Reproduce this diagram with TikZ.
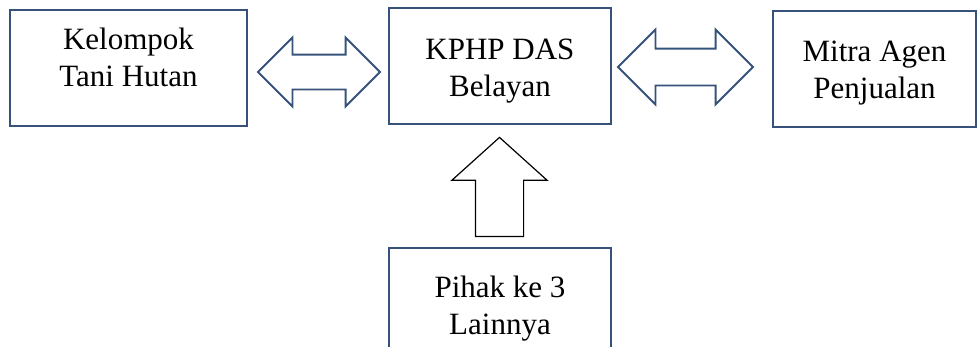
\documentclass[tikz,border=0pt]{standalone}
\usepackage{fontspec}
\setmainfont{Liberation Serif}
\usetikzlibrary{positioning, shapes.arrows}
\definecolor{frame-color}{HTML}{36527A}

\begin{document}
\begin{tikzpicture}[x=1pt, y=-1pt]
\useasboundingbox (0,0) rectangle (978,346);

\begin{scope}[every node/.style={rectangle, draw=frame-color, line width=2pt, minimum height=116pt}]
\node[minimum width=237pt](kth) at (128.5,68) {};
\node[minimum width=222pt](kphp) at (500,66) {};
\node[minimum width=203pt](mitra) at (874.5,68.5) {};
\node[minimum width=222pt](pihak) at (500,306) {};
\end{scope}

\begin{scope}[every node/.style={font=\fontsize{31}{37}\selectfont, align=center, inner sep=0pt, anchor=north}]
\node(t1) [below=19pt of kth.north]  {Kelompok\\Tani Hutan};
\node(t2) [below=31.5pt of kphp.north] {KPHP DAS\\Belayan};
\node(t3) [below=31pt of mitra.north] {Mitra Agen\\Penjualan};
\node(t4) [below=29pt of pihak.north] {Pihak ke 3\\Lainnya};
\end{scope}

\begin{scope}[every node/.style={double arrow, draw=frame-color, line width=1.8pt, fill=white}]
\node[inner sep=16.5pt, double arrow head extend=17pt, minimum height=122pt, minimum width=67pt](a1) at (319,72) {};
\node[inner sep=17.5pt, double arrow head extend=19pt, minimum height=135pt, minimum width=73pt](a2) at (685.5,67) {};
\end{scope}

\node[single arrow, shape border rotate=90, draw=black, line width=1.2pt, inner sep=23.5pt, single arrow head extend=23.5pt, single arrow tip angle=96, minimum height=99pt, anchor=tail](a3) at (499.5,237) {};

\end{tikzpicture}
\end{document}
